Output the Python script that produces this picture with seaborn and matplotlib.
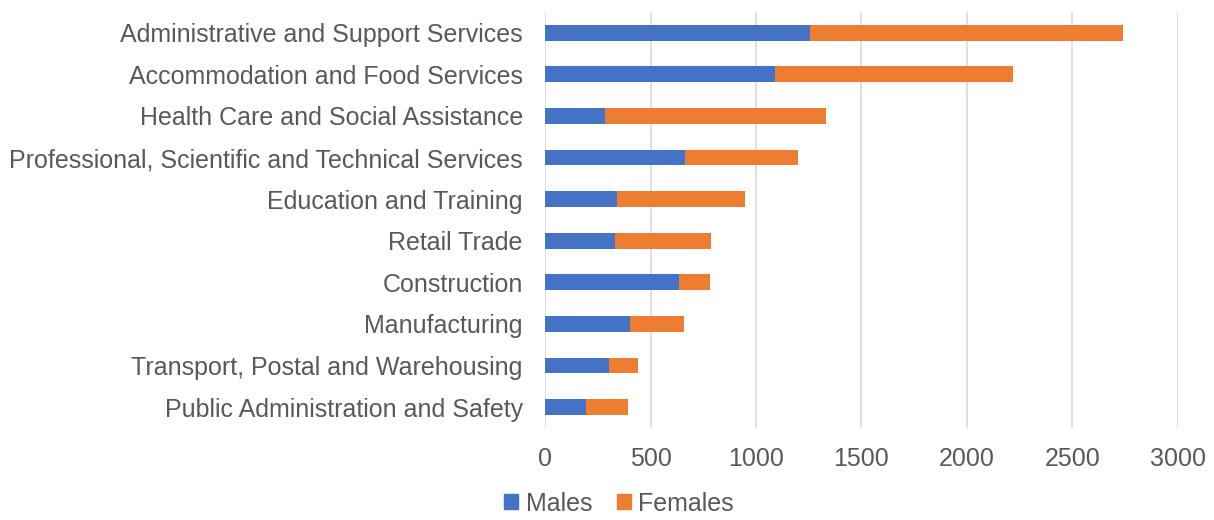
import matplotlib
matplotlib.use("Agg")
import matplotlib.pyplot as plt
import seaborn as sns
import pandas as pd
from matplotlib.patches import Patch

categories = [
    "Administrative and Support Services",
    "Accommodation and Food Services",
    "Health Care and Social Assistance",
    "Professional, Scientific and Technical Services",
    "Education and Training",
    "Retail Trade",
    "Construction",
    "Manufacturing",
    "Transport, Postal and Warehousing",
    "Public Administration and Safety",
]
males = [1256, 1092, 284, 662, 343, 331, 633, 403, 302, 193]
females = [1487, 1126, 1050, 537, 607, 454, 148, 257, 138, 202]
x_ticks = [0, 500, 1000, 1500, 2000, 2500, 3000]

blue = "#4472C4"
orange = "#ED7D31"
grey = "#595959"

sns.set_theme(style="white")
plt.rcParams["font.family"] = ["Liberation Sans", "DejaVu Sans"]

df = pd.DataFrame({"cat": categories, "Males": males, "Females": females})
df["Total"] = df["Males"] + df["Females"]

fig = plt.figure(figsize=(12.14, 5.2), dpi=100)
ax = fig.add_axes([0.449, 0.177, 0.521, 0.80])

sns.barplot(data=df, x="Total", y="cat", color=orange, width=0.38, ax=ax,
            saturation=1, order=categories, linewidth=0)
sns.barplot(data=df, x="Males", y="cat", color=blue, width=0.38, ax=ax,
            saturation=1, order=categories, linewidth=0)

ax.set_xlim(0, 3000)
ax.set_xticks(x_ticks)
ax.set_xticklabels([str(t) for t in x_ticks])
ax.set_xlabel("")
ax.set_ylabel("")
ax.grid(axis="x", color="#D9D9D9", linewidth=1.2)
ax.set_axisbelow(True)
for s in ax.spines.values():
    s.set_visible(False)
ax.tick_params(axis="both", length=0, labelsize=18, labelcolor=grey)
ax.tick_params(axis="y", pad=16)
ax.tick_params(axis="x", pad=14)

handles = [Patch(color=blue, label="Males"), Patch(color=orange, label="Females")]
fig.legend(handles=handles, loc="lower center", bbox_to_anchor=(0.51, -0.035),
           ncol=2, frameon=False, fontsize=18, labelcolor=grey,
           handlelength=0.55, handleheight=0.55, handletextpad=0.3, columnspacing=1.0)

fig.savefig("out.png", dpi=100)
